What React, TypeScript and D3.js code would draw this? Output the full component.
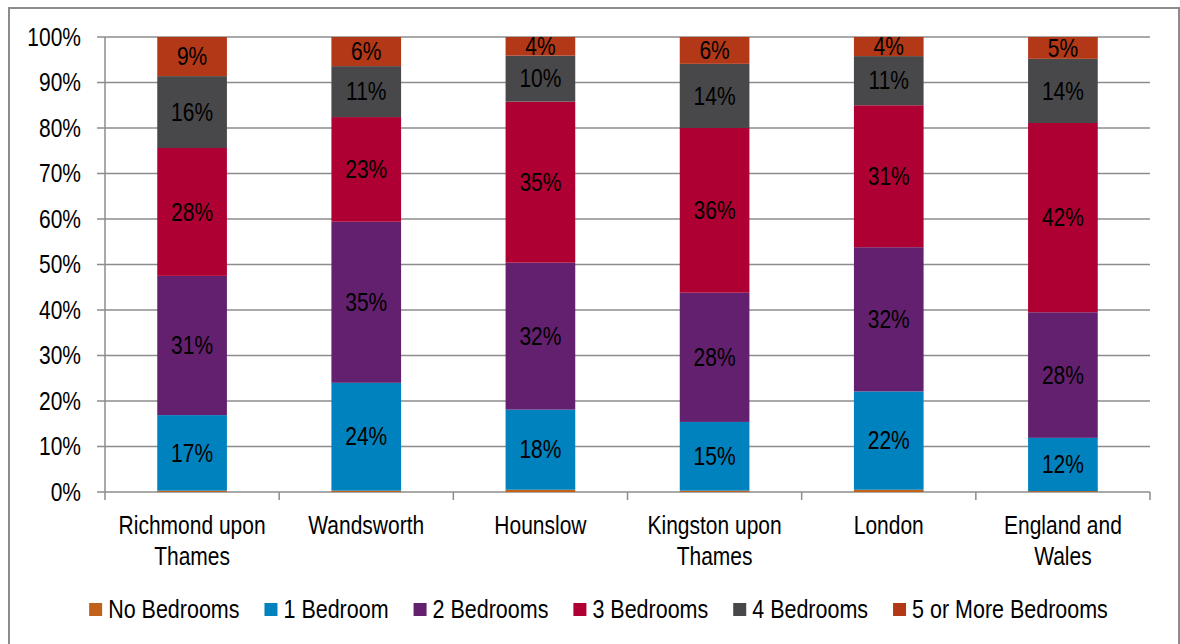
import React, { useEffect, useRef } from "react";
import * as d3 from "d3";

const categories = [
  ["Richmond upon", "Thames"],
  ["Wandsworth"],
  ["Hounslow"],
  ["Kingston upon", "Thames"],
  ["London"],
  ["England and", "Wales"],
];
const seriesNames = ["No Bedrooms", "1 Bedroom", "2 Bedrooms", "3 Bedrooms", "4 Bedrooms", "5 or More Bedrooms"];
const noBedrooms = [0.3, 0.3, 0.5, 0.3, 0.5, 0.2];
const oneBedroom = [16.6, 23.7, 17.6, 15.1, 21.6, 11.7];
const twoBedrooms = [30.6, 35.4, 32.3, 28.4, 31.7, 27.6];
const threeBedrooms = [28.1, 23.0, 35.4, 36.2, 31.2, 41.6];
const fourBedrooms = [15.8, 11.2, 10.1, 14.1, 10.8, 14.1];
const fiveOrMore = [8.6, 6.4, 4.1, 5.9, 4.2, 4.8];
const yTicks = [0, 10, 20, 30, 40, 50, 60, 70, 80, 90, 100];
const colors = ["#C0621A", "#0082BE", "#63206E", "#AE0032", "#48484A", "#B33818"];

const W = 1180;
const H = 644;
const FONT = "'Liberation Sans', Arial, sans-serif";
const FS = 25;
const SX = 0.84;

export default function App() {
  const ref = useRef<SVGSVGElement>(null);
  useEffect(() => {
    const svg = d3.select(ref.current);
    svg.selectAll("*").remove();
    const left = 105, right = 1150, top = 37, bottom = 492;
    const seriesData = [noBedrooms, oneBedroom, twoBedrooms, threeBedrooms, fourBedrooms, fiveOrMore];
    const rows = categories.map((c, i) => {
      const r: any = { key: i };
      seriesNames.forEach((s, j) => (r[s] = seriesData[j][i]));
      return r;
    });
    const stack = d3.stack().keys(seriesNames)(rows as any);
    const x = d3.scaleBand<number>().domain(categories.map((_, i) => i)).range([left, right]).paddingInner(0).paddingOuter(0);
    const y = d3.scaleLinear().domain([0, 100]).range([bottom, top]);
    const barW = x.bandwidth() * 0.4;

    const txt = (parent: any, tx: number, ty: number, s: string, anchor: string, dy = "0", sx = SX) =>
      parent.append("text").attr("transform", `translate(${tx},${ty}) scale(${sx},1)`)
        .attr("dy", dy).attr("text-anchor", anchor).attr("font-family", FONT).attr("font-size", FS)
        .attr("fill", "#000").text(s);

    // frame
    svg.append("rect").attr("x", 9).attr("y", 8).attr("width", 1170).attr("height", 660)
      .attr("fill", "white").attr("stroke", "#8c8c8c").attr("stroke-width", 2);

    // gridlines
    const g = svg.append("g");
    yTicks.forEach((t) => {
      g.append("line").attr("x1", left - 8).attr("x2", right).attr("y1", y(t)).attr("y2", y(t))
        .attr("stroke", "#8c8c8c").attr("stroke-width", 1.5);
      txt(g, 81, y(t), t + "%", "end", "0.35em");
    });
    g.append("line").attr("x1", left).attr("x2", left).attr("y1", top).attr("y2", bottom)
      .attr("stroke", "#8c8c8c").attr("stroke-width", 1.5);
    // x ticks
    for (let i = 0; i <= categories.length; i++) {
      const xx = i < categories.length ? (x(i) as number) : right;
      g.append("line").attr("x1", xx).attr("x2", xx).attr("y1", bottom).attr("y2", bottom + 8)
        .attr("stroke", "#8c8c8c").attr("stroke-width", 1.5);
    }

    // bars
    stack.forEach((layer, j) => {
      layer.forEach((d, i) => {
        const cx = (x(i) as number) + x.bandwidth() / 2;
        svg.append("rect").attr("x", cx - barW / 2).attr("width", barW)
          .attr("y", y(d[1])).attr("height", y(d[0]) - y(d[1])).attr("fill", colors[j]);
      });
    });
    stack.forEach((layer, j) => {
      if (j === 0) return;
      layer.forEach((d, i) => {
        const cx = (x(i) as number) + x.bandwidth() / 2;
        const v = d[1] - d[0];
        txt(svg, cx, (y(d[0]) + y(d[1])) / 2, Math.round(v) + "%", "middle", "0.35em");
      });
    });

    // category labels
    categories.forEach((lines, i) => {
      const cx = (x(i) as number) + x.bandwidth() / 2;
      lines.forEach((ln, k) => {
        txt(svg, cx, 534 + k * 31, ln, "middle");
      });
    });

    // legend
    const LSX = 0.86;
    const lg = svg.append("g");
    const items: any[] = [];
    let cur = 0;
    const gap = 25;
    seriesNames.forEach((s, j) => {
      const it = lg.append("g");
      it.append("rect").attr("x", 0).attr("y", -15).attr("width", 13).attr("height", 13).attr("fill", colors[j]);
      const t = txt(it, 19, 0, s, "start", "0", LSX);
      const w = 19 + (t.node() as SVGTextElement).getComputedTextLength() * LSX;
      items.push({ it, x: cur });
      cur += w + gap;
    });
    const total = cur - gap;
    const start = 598.5 - total / 2;
    items.forEach((o) => o.it.attr("transform", `translate(${start + o.x},${618})`));
  }, []);
  return (
    <svg ref={ref} width={W} height={H} style={{ position: "absolute", left: 0, top: 0, background: "white" }} />
  );
}
